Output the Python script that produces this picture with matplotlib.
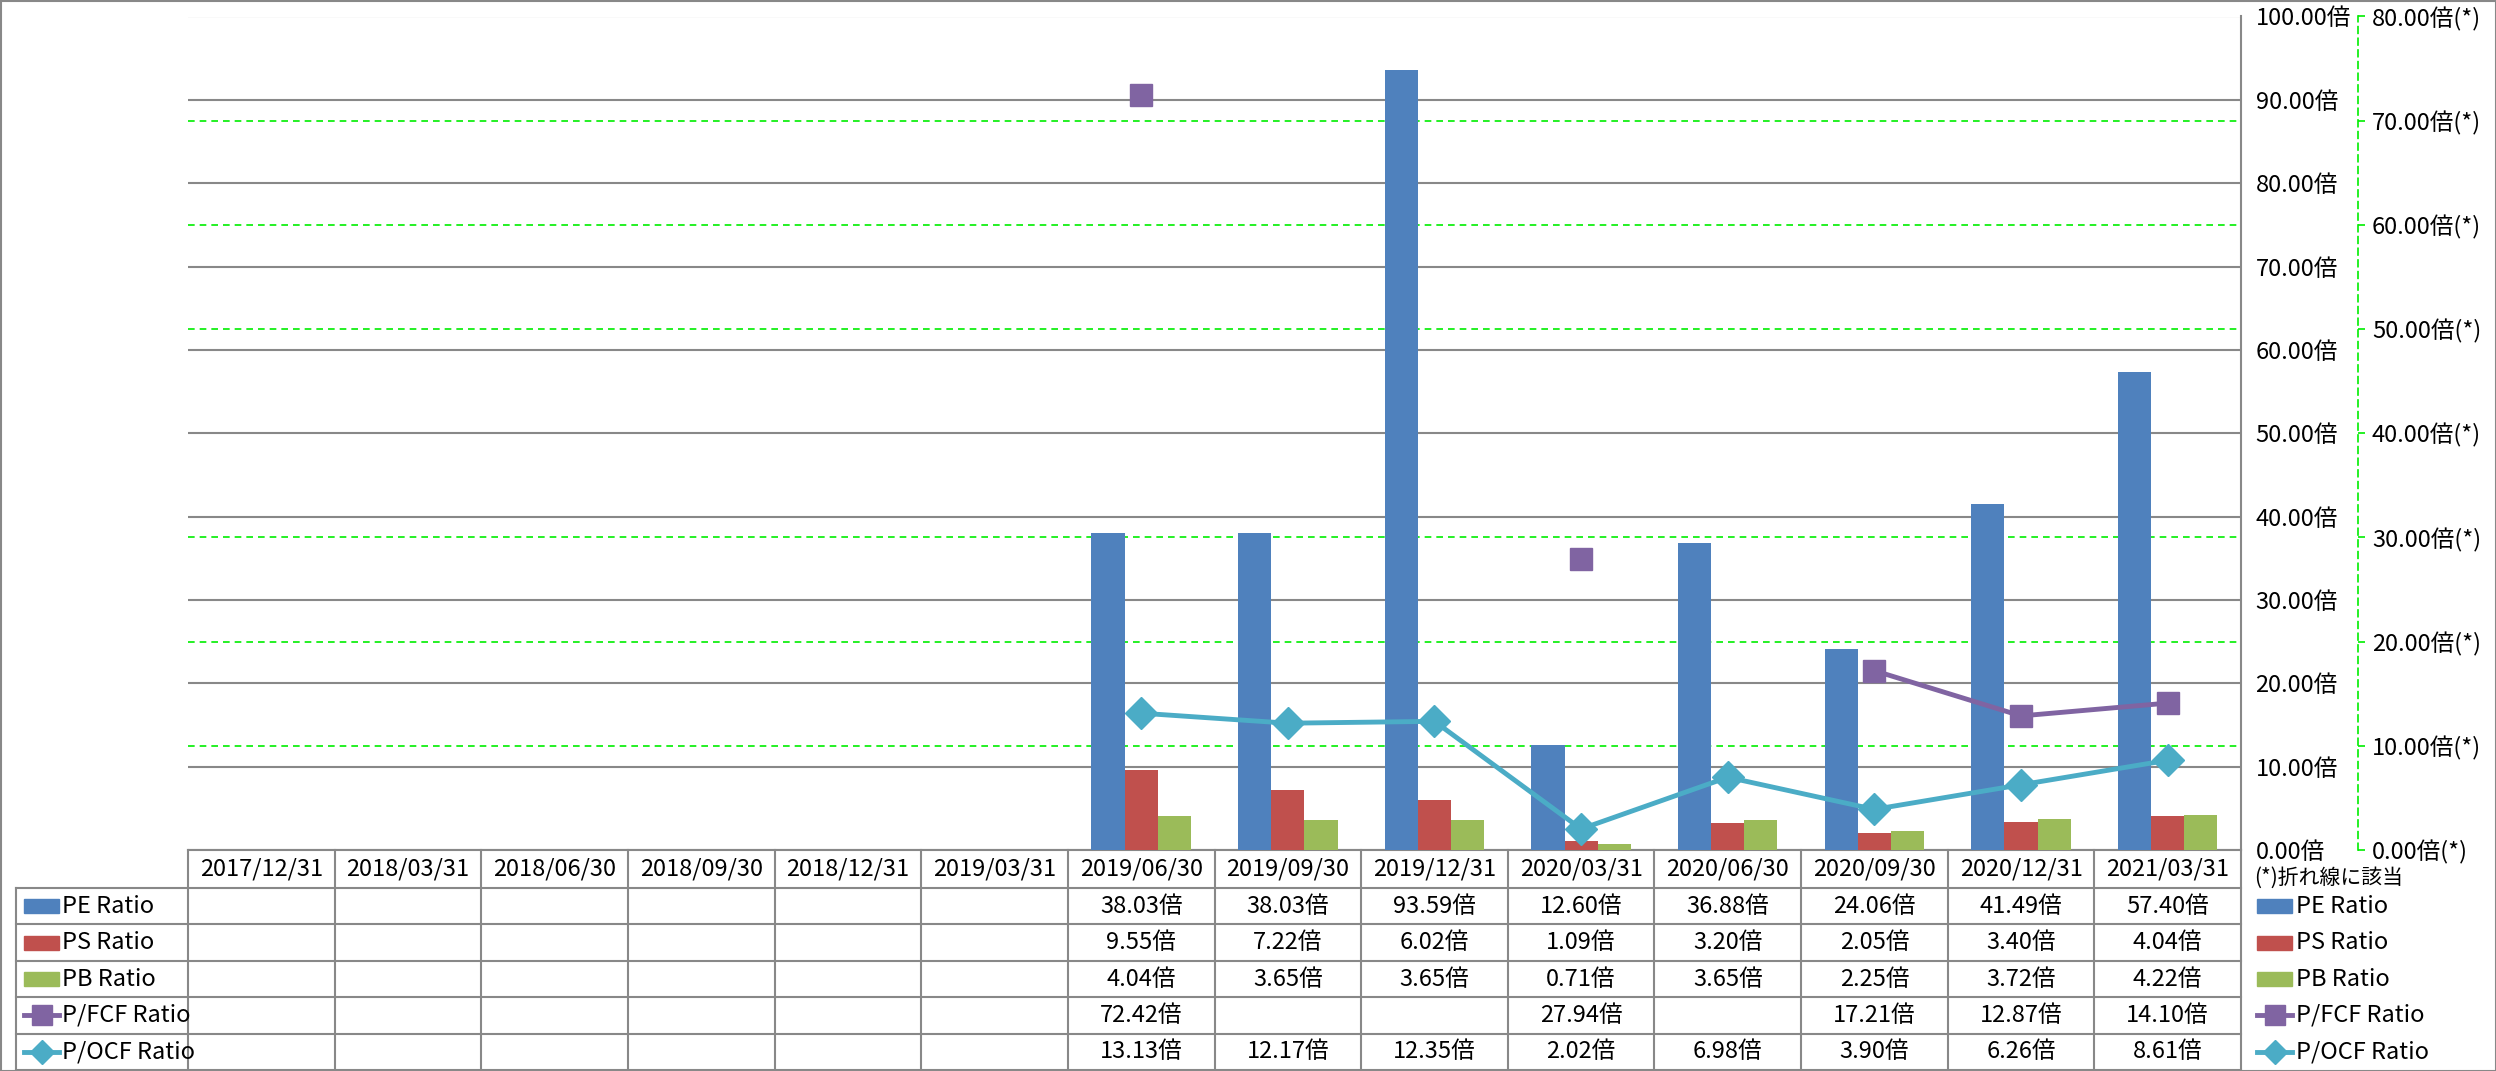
import matplotlib
matplotlib.use("Agg")
import matplotlib.pyplot as plt
import matplotlib.transforms as mtransforms
from matplotlib.patches import Rectangle
from matplotlib.lines import Line2D
from matplotlib.ticker import MultipleLocator, FuncFormatter
import numpy as np

plt.rcParams['font.family'] = ['Noto Sans CJK JP', 'DejaVu Sans']

# data
dates = ['2017/12/31', '2018/03/31', '2018/06/30', '2018/09/30', '2018/12/31',
         '2019/03/31', '2019/06/30', '2019/09/30', '2019/12/31', '2020/03/31',
         '2020/06/30', '2020/09/30', '2020/12/31', '2021/03/31']
nan = np.nan
pe = [nan]*6 + [38.03, 38.03, 93.59, 12.60, 36.88, 24.06, 41.49, 57.40]
ps = [nan]*6 + [9.55, 7.22, 6.02, 1.09, 3.20, 2.05, 3.40, 4.04]
pb = [nan]*6 + [4.04, 3.65, 3.65, 0.71, 3.65, 2.25, 3.72, 4.22]
pfcf = [nan]*6 + [72.42, nan, nan, 27.94, nan, 17.21, 12.87, 14.10]
pocf = [nan]*6 + [13.13, 12.17, 12.35, 2.02, 6.98, 3.90, 6.26, 8.61]

names = ['PE Ratio', 'PS Ratio', 'PB Ratio', 'P/FCF Ratio', 'P/OCF Ratio']
colors = ['#4F81BD', '#C0504D', '#9BBB59', '#8064A2', '#4BACC6']
series = [pe, ps, pb, pfcf, pocf]

W, H = 2496, 1071
fig = plt.figure(figsize=(W/100, H/100), dpi=100)

# plot area in pixels
L, R, T, B = 188, 2241, 16.5, 850
ax = fig.add_axes([L/W, 1-B/H, (R-L)/W, (B-T)/H])
ax2 = ax.twinx()
ax.set_zorder(1)
ax2.set_zorder(2)
ax2.patch.set_visible(False)

x = np.arange(len(dates))
bw = 0.226
for k in range(3):
    ax.bar(x + (k-1)*bw, series[k], bw, color=colors[k], zorder=3)

fs = 17
ax.set_xlim(-0.5, len(dates)-0.5)
ax.set_ylim(0, 100)
ax2.set_ylim(0, 80)
ax.set_xticks([])
ax.yaxis.tick_right()
ax.yaxis.set_major_locator(MultipleLocator(10))
ax.yaxis.set_minor_locator(MultipleLocator(12.5))
ax.yaxis.set_major_formatter(FuncFormatter(lambda v, p: f'{v:.2f}倍'))
ax.tick_params(axis='y', which='major', length=0, pad=10.5, labelsize=fs)
ax.tick_params(axis='y', which='minor', length=0)
ax.grid(axis='y', which='major', color='#888888', lw=1.5, zorder=1)
ax.grid(axis='y', which='minor', color='#00EE00', lw=1.2, ls=(0, (4, 3)), zorder=1)
for s in ['left', 'top']:
    ax.spines[s].set_visible(False)
ax.spines['right'].set_color('#888888')
ax.spines['right'].set_linewidth(1.5)
ax.spines['bottom'].set_color('#888888')
ax.spines['bottom'].set_linewidth(1.5)

# secondary axis
ax2.plot(x, pfcf, color=colors[3], lw=3.5, marker='s', ms=16.5, zorder=3)
ax2.plot(x, pocf, color=colors[4], lw=3.5, marker='D', ms=16, zorder=3)
ax2.yaxis.set_major_locator(MultipleLocator(10))
ax2.yaxis.set_major_formatter(FuncFormatter(lambda v, p: f'{v:.2f}倍(*)'))
for s in ['left', 'top', 'bottom']:
    ax2.spines[s].set_visible(False)
ax2.spines['right'].set_position(('outward', (2358-R)*0.72))
ax2.spines['right'].set_color('#00EE00')
ax2.spines['right'].set_linestyle((0, (4, 3)))
ax2.spines['right'].set_linewidth(1.2)
ax2.tick_params(axis='y', length=5, width=1.2, color='#00EE00', pad=5, labelsize=fs)
ax2.set_xlim(-0.5, len(dates)-0.5)

# data table below
tr = mtransforms.blended_transform_factory(ax.transData, fig.transFigure)
def fy(py):
    return 1 - py/H

gray = '#888888'
col_left = -0.5 - (L-16)/((R-L)/len(dates))
row_edges = [850, 888] + list(np.linspace(888, 1070, 6)[1:])

def hline(x0, x1, py):
    fig.add_artist(Line2D([x0, x1], [fy(py), fy(py)], transform=tr, color=gray, lw=1.5, clip_on=False))

def vline(xx, py0, py1):
    fig.add_artist(Line2D([xx, xx], [fy(py0), fy(py1)], transform=tr, color=gray, lw=1.5, clip_on=False))

for py in row_edges[1:]:
    hline(col_left, len(dates)-0.5, py)
for i in range(len(dates)+1):
    vline(i-0.5, 850, 1070)
vline(col_left, 888, 1070)

for i, d in enumerate(dates):
    fig.text(i, fy(869), d, transform=tr, ha='center', va='center', fontsize=fs)

px_unit = (R-L)/len(dates)
for r, (name, vals) in enumerate(zip(names, series)):
    yc = (row_edges[r+1] + row_edges[r+2]) / 2
    for i, v in enumerate(vals):
        if not np.isnan(v):
            fig.text(i, fy(yc), f'{v:.2f}倍', transform=tr, ha='center', va='center', fontsize=fs)
    # legend key in the table and at the right
    kx0 = col_left + (24-16)/px_unit
    kx1 = col_left + (59-16)/px_unit
    tx = col_left + (62-16)/px_unit
    for (a0, a1, lx) in [(kx0, kx1, tx), (-0.5 + (2257-L)/px_unit, -0.5 + (2292-L)/px_unit, -0.5 + (2296-L)/px_unit)]:
        if r < 3:
            fig.add_artist(Rectangle((a0, fy(yc+7)), a1-a0, 14/H, transform=tr,
                                     color=colors[r], clip_on=False))
        else:
            fig.add_artist(Line2D([a0, a1], [fy(yc), fy(yc)], transform=tr, color=colors[r], lw=3.5,
                                  clip_on=False))
            fig.add_artist(Line2D([(a0+a1)/2], [fy(yc)], transform=tr, color=colors[r],
                                  marker='s' if r == 3 else 'D', ms=14 if r == 3 else 12, clip_on=False))
        fig.text(lx, fy(yc), name, transform=tr, ha='left', va='center', fontsize=fs)

fig.text(-0.5 + (2254-L)/px_unit, fy(878), '(*)折れ線に該当', transform=tr, ha='left', va='center', fontsize=15)

# chart border
fig.add_artist(Rectangle((0.5/W, 0.5/H), 1-1/W, 1-1/H, transform=fig.transFigure,
                         fill=False, edgecolor=gray, lw=1.5))

fig.savefig('out.png', dpi=100)
